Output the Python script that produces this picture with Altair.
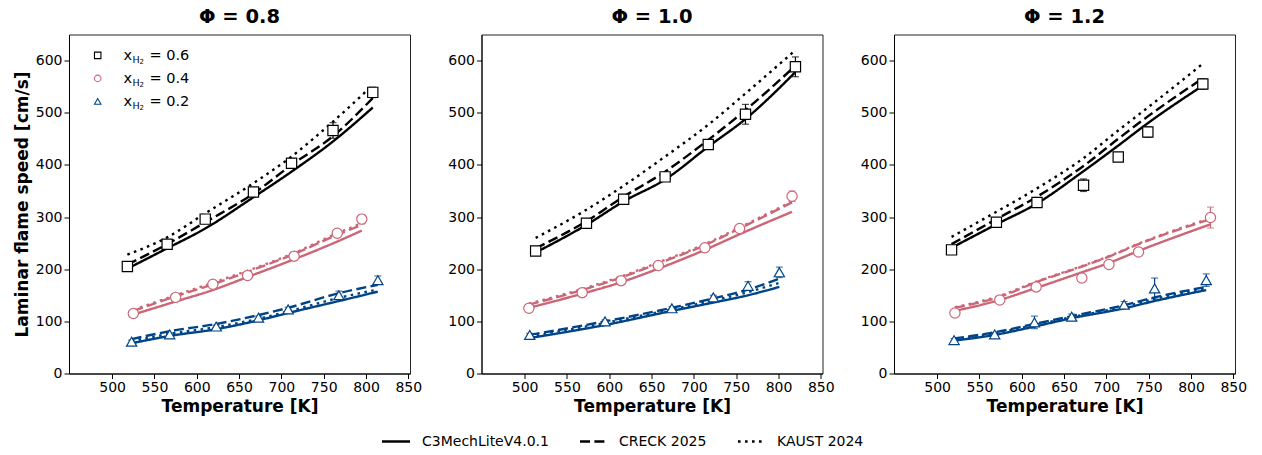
import altair as alt
import pandas as pd

FONT = "DejaVu Sans"

phi_labels = ["Φ = 0.8", "Φ = 1.0", "Φ = 1.2"]
fractions = ["0.6", "0.4", "0.2"]
series_colors = ["#000000", "#CC6677", "#004488"]
marker_shapes = ["square", "circle", "triangle-up"]
models = ["C3MechLiteV4.0.1", "CRECK 2025", "KAUST 2024"]
dash_patterns = [[1, 0], [10, 4.4], [2.6, 4.4]]
x_ticks = [500, 550, 600, 650, 700, 750, 800, 850]
y_ticks = [0, 100, 200, 300, 400, 500, 600]

# ---------------- Φ = 0.8 ----------------
p08_h06_T = [518, 565, 610, 667, 712, 761, 808]
p08_h06_exp = [205, 248, 296, 348, 403, 466, 539]
p08_h06_err = [4, 4, 6, 6, 8, 15, 10]
p08_h06_c3 = [201, 240, 278, 338, 387, 445, 510]
p08_h06_creck = [209, 248, 290, 345, 400, 455, 528]
p08_h06_kaust = [228, 261, 307, 365, 416, 483, 553]

p08_h04_T = [525, 575, 619, 660, 715, 766, 795]
p08_h04_exp = [115, 146, 171, 188, 225, 269, 296]
p08_h04_err = [3, 3, 6, 3, 5, 6, 9]
p08_h04_c3 = [113, 138, 160, 185, 219, 253, 274]
p08_h04_creck = [120, 148, 171, 195, 229, 266, 285]
p08_h04_kaust = [122, 150, 174, 197, 231, 269, 288]

p08_h02_T = [523, 568, 623, 673, 708, 768, 814]
p08_h02_exp = [61, 75, 90, 107, 123, 150, 179]
p08_h02_err = [3, 3, 3, 3, 4, 8, 8]
p08_h02_c3 = [58, 72, 85, 102, 116, 139, 157]
p08_h02_creck = [66, 81, 95, 112, 126, 154, 170]
p08_h02_kaust = [62, 76, 89, 105, 119, 145, 161]

# ---------------- Φ = 1.0 ----------------
p10_h06_T = [513, 573, 617, 666, 717, 761, 820]
p10_h06_exp = [235, 288, 334, 377, 439, 497, 588]
p10_h06_err = [4, 5, 6, 6, 6, 19, 19]
p10_h06_c3 = [232, 285, 330, 372, 435, 488, 578]
p10_h06_creck = [240, 292, 339, 387, 448, 505, 590]
p10_h06_kaust = [260, 314, 360, 416, 477, 537, 620]

p10_h04_T = [505, 568, 614, 658, 713, 754, 816]
p10_h04_exp = [125, 155, 178, 207, 241, 278, 340]
p10_h04_err = [3, 3, 3, 3, 4, 5, 10]
p10_h04_c3 = [126, 153, 175, 201, 237, 267, 310]
p10_h04_creck = [132, 160, 184, 211, 246, 278, 328]
p10_h04_kaust = [134, 162, 186, 213, 248, 280, 330]

p10_h02_T = [506, 595, 674, 723, 764, 801]
p10_h02_exp = [74, 100, 125, 146, 168, 194]
p10_h02_err = [3, 3, 3, 4, 8, 10]
p10_h02_c3 = [68, 93, 120, 136, 150, 166]
p10_h02_creck = [74, 100, 126, 144, 161, 182]
p10_h02_kaust = [71, 97, 123, 140, 156, 174]

# ---------------- Φ = 1.2 ----------------
p12_h06_T = [517, 570, 618, 673, 714, 749, 814]
p12_h06_exp = [237, 290, 328, 361, 415, 463, 555]
p12_h06_err = [4, 4, 5, 12, 8, 10, 10]
p12_h06_c3 = [241, 286, 326, 388, 437, 480, 552]
p12_h06_creck = [248, 296, 339, 398, 450, 493, 566]
p12_h06_kaust = [262, 310, 355, 413, 466, 510, 594]

p12_h04_T = [521, 574, 617, 671, 703, 738, 823]
p12_h04_exp = [116, 141, 166, 183, 209, 233, 299]
p12_h04_err = [3, 3, 3, 6, 4, 4, 20]
p12_h04_c3 = [120, 141, 164, 194, 212, 235, 286]
p12_h04_creck = [126, 147, 175, 205, 224, 248, 296]
p12_h04_kaust = [127, 149, 176, 206, 225, 249, 298]

p12_h02_T = [520, 568, 615, 659, 721, 757, 818]
p12_h02_exp = [64, 75, 98, 109, 132, 163, 179]
p12_h02_err = [3, 3, 12, 5, 6, 20, 12]
p12_h02_c3 = [63, 74, 90, 106, 125, 139, 160]
p12_h02_creck = [67, 79, 95, 110, 131, 146, 166]
p12_h02_kaust = [65, 77, 93, 108, 128, 143, 163]

panel_series = [
    [
        (p08_h06_T, p08_h06_exp, p08_h06_err, p08_h06_c3, p08_h06_creck, p08_h06_kaust),
        (p08_h04_T, p08_h04_exp, p08_h04_err, p08_h04_c3, p08_h04_creck, p08_h04_kaust),
        (p08_h02_T, p08_h02_exp, p08_h02_err, p08_h02_c3, p08_h02_creck, p08_h02_kaust),
    ],
    [
        (p10_h06_T, p10_h06_exp, p10_h06_err, p10_h06_c3, p10_h06_creck, p10_h06_kaust),
        (p10_h04_T, p10_h04_exp, p10_h04_err, p10_h04_c3, p10_h04_creck, p10_h04_kaust),
        (p10_h02_T, p10_h02_exp, p10_h02_err, p10_h02_c3, p10_h02_creck, p10_h02_kaust),
    ],
    [
        (p12_h06_T, p12_h06_exp, p12_h06_err, p12_h06_c3, p12_h06_creck, p12_h06_kaust),
        (p12_h04_T, p12_h04_exp, p12_h04_err, p12_h04_c3, p12_h04_creck, p12_h04_kaust),
        (p12_h02_T, p12_h02_exp, p12_h02_err, p12_h02_c3, p12_h02_creck, p12_h02_kaust),
    ],
]

meas_rows, model_rows = [], []
for phi, series in zip(phi_labels, panel_series):
    for frac, (T, exp, err, c3, cr, ka) in zip(fractions, series):
        for t, v, e in zip(T, exp, err):
            meas_rows.append(dict(phi=phi, frac=frac, T=t, V=v, lo=v - e, hi=v + e))
        for model, vals in zip(models, (c3, cr, ka)):
            for t, v in zip(T, vals):
                model_rows.append(dict(phi=phi, frac=frac, model=model, T=t, V=v))
meas_df = pd.DataFrame(meas_rows)
model_df = pd.DataFrame(model_rows)

PW, PH = 341, 339
one = pd.DataFrame({"k": [0]})


def txt(s, x, y, size, align="left", baseline="alphabetic", weight="normal"):
    return alt.Chart(one).mark_text(
        text=s, align=align, baseline=baseline, fontSize=size, font=FONT,
        color="black", fontWeight=weight
    ).encode(x=alt.value(x), y=alt.value(y))


def panel(i, phi):
    md = model_df[model_df.phi == phi]
    ed = meas_df[meas_df.phi == phi]
    xenc = alt.X("T:Q", scale=alt.Scale(domain=[449, 852], nice=False, zero=False),
                 axis=alt.Axis(values=x_ticks, title="Temperature [K]", format="d"))
    ytitle = "Laminar flame speed [cm/s]" if i == 0 else None

    def yenc(field):
        return alt.Y(field, scale=alt.Scale(domain=[0, 650], nice=False),
                     axis=alt.Axis(values=y_ticks, title=ytitle, format="d"))

    color = alt.Color("frac:N", scale=alt.Scale(domain=fractions, range=series_colors), legend=None)
    lines = alt.Chart(md).mark_line(strokeWidth=2.4, strokeCap="butt", interpolate="monotone").encode(
        x=xenc, y=yenc("V:Q"), color=color,
        strokeDash=alt.StrokeDash("model:N", scale=alt.Scale(domain=models, range=dash_patterns), legend=None),
    )
    bars = alt.Chart(ed).mark_errorbar(ticks=True, thickness=1.2, size=7).encode(
        x=xenc, y=yenc("lo:Q"), y2="hi:Q", color=color
    )
    pts = alt.Chart(ed).mark_point(filled=False, fill="white", fillOpacity=1, size=105, strokeWidth=1.2, opacity=1).encode(
        x=xenc, y=yenc("V:Q"), color=color,
        shape=alt.Shape("frac:N", scale=alt.Scale(domain=fractions, range=marker_shapes), legend=None),
    )
    layers = [lines, bars, pts]
    if i == 0:
        rows_y = [25.4, 48.4, 71.4]
        for frac, col, shp, by in zip(fractions, series_colors, marker_shapes, rows_y):
            layers.append(
                alt.Chart(one).mark_point(shape=shp, filled=False, fill="white", fillOpacity=1,
                                          color=col, size=42, strokeWidth=1.1, opacity=1)
                .encode(x=alt.value(28.7), y=alt.value(by - 4.5))
            )
            layers.append(txt("x", 54.4, by, 14.5))
            layers.append(txt("H", 63.6, by + 2.6, 9.5))
            layers.append(txt("2", 70.4, by + 3.6, 7))
            layers.append(txt("= " + frac, 80.5, by, 14.5))
    return alt.layer(*layers).properties(
        width=PW, height=PH,
        title=alt.TitleParams(phi, fontSize=19.5, fontWeight="bold", font=FONT, color="black", offset=7),
    )


panels = alt.hconcat(*[panel(i, p) for i, p in enumerate(phi_labels)], spacing=23.5)

# bottom legend (line styles), x positions in page pixels minus the plot origin
LEG_X0 = 67
leg_layers = []
leg_lines = [(380, 408), (578, 606), (736, 764)]
leg_text_x = [420, 617, 775]
for (xa, xb), dash, tx, name in zip(leg_lines, dash_patterns, leg_text_x, models):
    leg_layers.append(
        alt.Chart(one).mark_rule(color="black", strokeWidth=2.4, strokeDash=dash, strokeCap="butt")
        .encode(x=alt.value(xa - LEG_X0), x2=alt.value(xb - LEG_X0), y=alt.value(10))
    )
    leg_layers.append(txt(name, tx - LEG_X0, 10, 14, baseline="middle"))
legend_chart = alt.layer(*leg_layers).properties(
    width=1000, height=20, view=alt.ViewBackground(strokeOpacity=0)
)

chart = alt.vconcat(panels, legend_chart, spacing=16).properties(
    padding={"left": 12, "top": 6.5, "right": 0, "bottom": 0}
).configure_view(
    stroke="#222222", strokeWidth=1
).configure_axis(
    grid=False, domainColor="black", domainWidth=1, tickColor="black", tickSize=5, tickWidth=1,
    labelFont=FONT, labelFontSize=14, labelColor="black", labelPadding=2,
    titleFont=FONT, titleFontSize=17, titleFontWeight="bold", titleColor="black",
)

chart.save("out.html", embed_options={"renderer": "svg", "actions": False})
